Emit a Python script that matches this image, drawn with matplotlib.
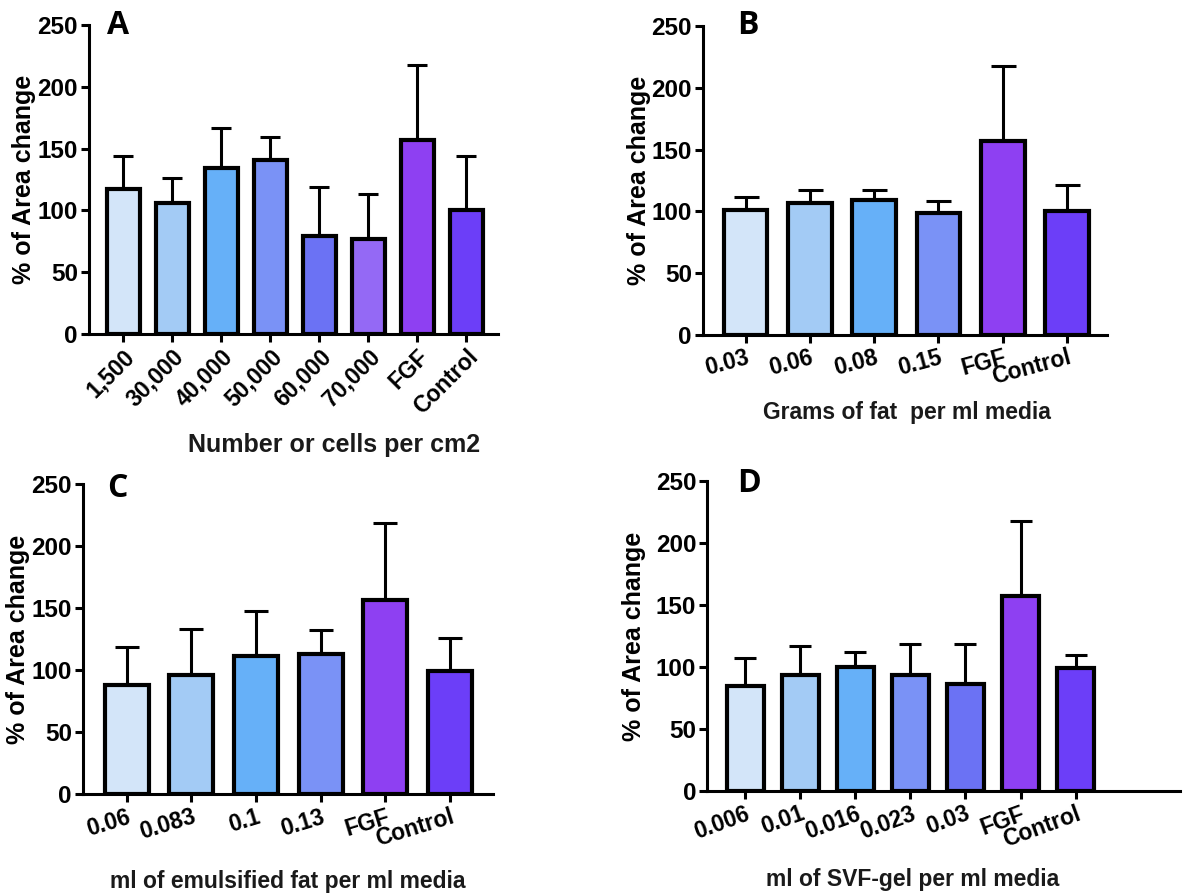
import matplotlib
matplotlib.use('Agg')
import matplotlib.pyplot as plt
import numpy as np

# panel A - number of cells per cm2
labels_a = ['1,500', '30,000', '40,000', '50,000', '60,000', '70,000', 'FGF', 'Control']
mean_a = [117, 106, 134.5, 141, 79, 77, 157, 100]
top_a = [144, 126.5, 167, 159.5, 119, 113, 218, 144]

# panel B - grams of fat per ml media
labels_b = ['0.03', '0.06', '0.08', '0.15', 'FGF', 'Control']
mean_b = [101.5, 106.5, 109.5, 99, 157, 100]
top_b = [111.5, 117.5, 117.5, 108.5, 218, 121]

# panel C - ml of emulsified fat per ml media
labels_c = ['0.06', '0.083', '0.1', '0.13', 'FGF', 'Control']
mean_c = [88.5, 96, 111.5, 113, 157, 99.5]
top_c = [118.5, 133.5, 147.5, 132.5, 218.5, 126]

# panel D - ml of SVF-gel per ml media
labels_d = ['0.006', '0.01', '0.016', '0.023', '0.03', 'FGF', 'Control']
mean_d = [84.5, 94, 100, 94, 86, 157, 99.5]
top_d = [107.5, 117, 112.5, 119, 118.5, 218, 110]

c_light = '#D3E5F9'
c_sky = '#A3CBF5'
c_blue = '#66B0F8'
c_peri = '#7A92F6'
c_indigo = '#6B72F4'
c_lav = '#9469F5'
c_fgf = '#8E40F2'
c_ctrl = '#6C3EF8'

colors_a = [c_light, c_sky, c_blue, c_peri, c_indigo, c_lav, c_fgf, c_ctrl]
colors_b = [c_light, c_sky, c_blue, c_peri, c_fgf, c_ctrl]
colors_c = [c_light, c_sky, c_blue, c_peri, c_fgf, c_ctrl]
colors_d = [c_light, c_sky, c_blue, c_peri, c_indigo, c_fgf, c_ctrl]

plt.rcParams['font.family'] = ['Liberation Sans', 'DejaVu Sans']
plt.rcParams['font.weight'] = 'bold'

fig = plt.figure(figsize=(11.88, 8.93), dpi=100)


def panel(rect, labels, mean, top, colors, letter, letter_xy, xlabel, xlab_xy,
          xlab_size, rot, xlim, capsize):
    ax = fig.add_axes(rect)
    x = np.arange(len(labels))
    mean = np.array(mean)
    up = np.array(top) - mean
    # only the upper half of the error bar is shown
    ax.errorbar(x, mean, yerr=[np.zeros_like(up), up], fmt='none',
                ecolor='black', elinewidth=2.2, capsize=capsize,
                capthick=2.2, zorder=1)
    ax.bar(x, mean, width=0.68, color=colors, edgecolor='black',
           linewidth=3.0, zorder=2)
    ax.set_ylim(0, 250)
    ax.set_xlim(*xlim)
    ax.set_yticks([0, 50, 100, 150, 200, 250])
    ax.set_xticks(x)
    ax.set_xticklabels(labels, rotation=rot, ha='right',
                       rotation_mode='anchor', fontsize=16.5, fontweight='bold')
    for t in ax.get_yticklabels():
        t.set_fontsize(17.5)
        t.set_fontweight('bold')
    ax.spines['top'].set_visible(False)
    ax.spines['right'].set_visible(False)
    ax.spines['left'].set_linewidth(2.2)
    ax.spines['bottom'].set_linewidth(2.2)
    ax.tick_params(axis='both', length=6, width=2.2, pad=2)
    ax.set_ylabel('% of Area change', fontsize=18, fontweight='bold')
    ax.yaxis.set_label_coords(-0.13, 0.5)
    ax.set_xlabel(xlabel, fontsize=xlab_size, fontweight='bold', color='#1a1a1a')
    ax.xaxis.set_label_coords(*xlab_xy)
    ax.text(letter_xy[0], letter_xy[1], letter, transform=ax.transAxes,
            fontsize=23, fontweight='bold', family=['Open Sans', 'DejaVu Sans'],
            ha='left', va='center')
    return ax


panel([0.0749, 0.626, 0.3443, 0.346], labels_a, mean_a, top_a, colors_a,
      'A', (0.044, 1.0), 'Number or cells per cm2', (0.60, -0.32), 18,
      45, (-0.7, 7.65), 7.2)
panel([0.5918, 0.6249, 0.340, 0.346], labels_b, mean_b, top_b, colors_b,
      'B', (0.084, 1.0), 'Grams of fat  per ml media', (0.505, -0.215), 16.5,
      15, (-0.66, 5.62), 9)
panel([0.0699, 0.1105, 0.3449, 0.347], labels_c, mean_c, top_c, colors_c,
      'C', (0.059, 0.986), 'ml of emulsified fat per ml media', (0.5, -0.245), 16.5,
      17, (-0.676, 5.66), 8.8)
panel([0.5954, 0.1142, 0.398, 0.347], labels_d, mean_d, top_d, colors_d,
      'D', (0.063, 0.992), 'ml of SVF-gel per ml media', (0.435, -0.25), 16.5,
      20, (-0.69, 7.9), 8)

fig.savefig('out.png', dpi=100)
